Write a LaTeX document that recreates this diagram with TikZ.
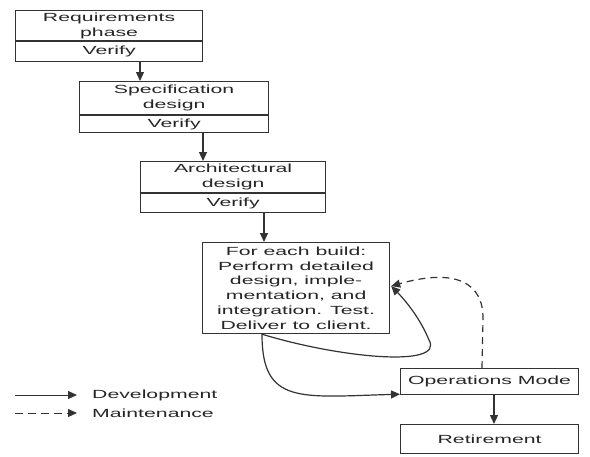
\documentclass[tikz,border=0pt]{standalone}
\usepackage{fontspec}
\newfontfamily\wf{Liberation Sans}[FakeStretch=1.8]
\usetikzlibrary{arrows.meta,calc}
\begin{document}
\begin{tikzpicture}[x=1pt,y=-1pt,
  ink/.style={draw=black!80, line width=1.2pt},
  part/.style={ink, inner sep=0pt, align=center, text=black!85,
    font=\wf\fontsize{11.8}{14.8}\selectfont},
  lbl/.style={inner sep=0pt, text=black!85, font=\wf\fontsize{11.8}{14.8}\selectfont},
  arr/.style={ink, -{Triangle[length=9pt,width=8pt,fill=black!80]}},
  darr/.style={arr, dash pattern=on 7pt off 5pt}]
\useasboundingbox (0,0) rectangle (590,456);

% phase boxes: title part above, verification part below
\node[part, minimum width=187pt, minimum height=30pt, anchor=north west] (req) at (15,10) {Requirements\\phase};
\node[part, minimum width=187pt, minimum height=20pt, anchor=north] (reqv) at (req.south) {Verify};

\node[part, minimum width=189pt, minimum height=33pt, anchor=north west] (spec) at (79,81) {Specification\\design};
\node[part, minimum width=189pt, minimum height=17pt, anchor=north] (specv) at (spec.south) {Verify};

\node[part, minimum width=185pt, minimum height=31pt, anchor=north west] (arch) at (140,161) {Architectural\\design};
\node[part, minimum width=185pt, minimum height=19pt, anchor=north] (archv) at (arch.south) {Verify};

\node[part, minimum width=187pt, minimum height=91pt, anchor=north west] (build) at (202,242)
  {For each build:\\Perform detailed\\design, imple-\\mentation, and\\integration. Test.\\Deliver to client.};

\node[part, minimum width=178pt, minimum height=26pt, anchor=north west] (ops) at (400,368) {Operations Mode};
\node[part, minimum width=178pt, minimum height=29pt, anchor=north west] (ret) at (400,424) {Retirement};

% development flow
\draw[arr] (reqv.south -| 140,0) -- (spec.north -| 140,0);
\draw[arr] (specv.south -| 203,0) -- (arch.north -| 203,0);
\draw[arr] (archv.south -| 264,0) -- (build.north -| 264,0);
\draw[arr] (ops.south -| 494,0) -- (ret.north -| 494,0);

\coordinate (bstart) at ($(build.south west)+(60,0)$);
\coordinate (bin) at ($(build.east)+(1,-2)$);
\draw[arr] (bstart) .. controls (340,358) and (445,368) .. (429,340)
  .. controls (420,318) and (405,300) .. (bin);
\draw[arr] (bstart) .. controls (262,405) and (300,397) .. ($(ops.south west)+(0,-1)$);

% maintenance flow
\draw[darr] (ops.north -| 482,0) -- (483,320) .. controls (484,282) and (455,268) .. (bin);

% legend
\coordinate (l1a) at (15,395); \coordinate (l1b) at (77,395);
\coordinate (l2a) at (15,413); \coordinate (l2b) at (77,413);
\draw[arr, line width=1pt] (l1a) -- (l1b);
\draw[darr, line width=1pt, dash pattern=on 8pt off 5pt] (l2a) -- (l2b);
\node[lbl, anchor=west] (dev) at (92,395) {Development};
\node[lbl, anchor=west] (mnt) at (92,413) {Maintenance};
\end{tikzpicture}
\end{document}
